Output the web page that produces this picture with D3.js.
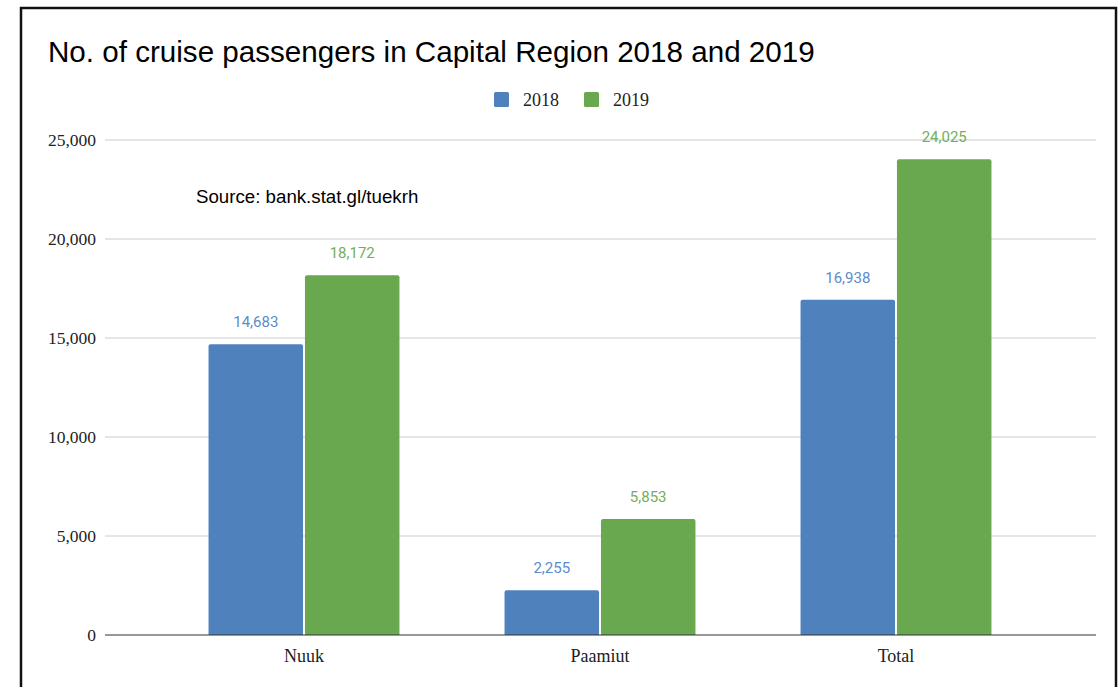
<!DOCTYPE html>
<html>
<head>
<meta charset="utf-8">
<script src="https://cdn.jsdelivr.net/npm/d3@7"></script>
<style>
  body { margin: 0; background: #fff; }
  svg { display: block; }
</style>
</head>
<body>
<div id="chart"></div>
<script>
// data
const categories = ['Nuuk', 'Paamiut', 'Total'];
const seriesNames = ['2018', '2019'];
const values2018 = [14683, 2255, 16938];
const values2019 = [18172, 5853, 24025];
const yTicks = [0, 5000, 10000, 15000, 20000, 25000];

const colors = { '2018': '#4f81bd', '2019': '#6aa84f' };
const labelColors = { '2018': '#5b8bc9', '2019': '#72b054' };

const W = 1119, H = 687;
const svg = d3.select('#chart').append('svg')
    .attr('width', W)
    .attr('height', H);

// outer frame
svg.append('rect')
    .attr('x', 21).attr('y', 8)
    .attr('width', 1095).attr('height', 700)
    .attr('fill', 'none')
    .attr('stroke', '#111')
    .attr('stroke-width', 2.5);

// title
svg.append('text')
    .attr('x', 48).attr('y', 62)
    .attr('font-family', 'Liberation Sans, Arial, sans-serif')
    .attr('font-size', 29.6)
    .attr('fill', '#000')
    .text('No. of cruise passengers in Capital Region 2018 and 2019');

// legend
const legend = svg.append('g');
const legendX = [494, 584];
seriesNames.forEach((s, i) => {
    legend.append('rect')
        .attr('x', legendX[i]).attr('y', 92)
        .attr('width', 15).attr('height', 15)
        .attr('rx', 1.5)
        .attr('fill', colors[s]);
    legend.append('text')
        .attr('x', legendX[i] + 29).attr('y', 106)
        .attr('font-family', 'Liberation Serif, Times New Roman, serif')
        .attr('font-size', 18)
        .attr('fill', '#222')
        .text(s);
});

// scales
const y = d3.scaleLinear().domain([0, 25000]).range([635, 140]);
const x = d3.scaleBand().domain(categories).range([156, 1044])
    .paddingInner(0.355).paddingOuter(0.1775);
const xSub = d3.scaleBand().domain(seriesNames).range([0, x.bandwidth()]).paddingInner(0.02);

const gridLeft = 105, gridRight = 1096;

// gridlines
svg.append('g')
    .selectAll('line')
    .data(yTicks.filter(t => t > 0))
    .join('line')
    .attr('x1', gridLeft).attr('x2', gridRight)
    .attr('y1', d => y(d)).attr('y2', d => y(d))
    .attr('stroke', '#cccccc')
    .attr('stroke-width', 1);

// y tick labels
svg.append('g')
    .selectAll('text')
    .data(yTicks)
    .join('text')
    .attr('x', 96)
    .attr('y', d => y(d) + 6)
    .attr('text-anchor', 'end')
    .attr('font-family', 'Liberation Serif, Times New Roman, serif')
    .attr('font-size', 17.5)
    .attr('fill', '#222')
    .text(d => d3.format(',')(d));

// source note
svg.append('text')
    .attr('x', 196).attr('y', 203)
    .attr('font-family', 'Liberation Sans, Arial, sans-serif')
    .attr('font-size', 18.7)
    .attr('fill', '#000')
    .text('Source: bank.stat.gl/tuekrh');

// bars
const rows = categories.map((c, i) => ({
    category: c,
    items: [
        { series: '2018', value: values2018[i] },
        { series: '2019', value: values2019[i] }
    ]
}));

const groups = svg.append('g')
    .selectAll('g')
    .data(rows)
    .join('g')
    .attr('transform', d => `translate(${x(d.category)},0)`);

groups.selectAll('path')
    .data(d => d.items)
    .join('path')
    .attr('fill', d => colors[d.series])
    .attr('d', d => {
        const x0 = xSub(d.series), w = xSub.bandwidth();
        const top = y(d.value), bot = y(0), r = 2;
        return `M${x0},${bot} V${top + r} Q${x0},${top} ${x0 + r},${top} H${x0 + w - r} Q${x0 + w},${top} ${x0 + w},${top + r} V${bot} Z`;
    });

// value labels
groups.selectAll('text')
    .data(d => d.items)
    .join('text')
    .attr('x', d => xSub(d.series) + xSub.bandwidth() / 2)
    .attr('y', d => y(d.value) - 17)
    .attr('text-anchor', 'middle')
    .attr('font-family', 'Roboto, sans-serif')
    .attr('font-size', 15)
    .attr('fill', d => labelColors[d.series])
    .text(d => d3.format(',')(d.value));

// baseline
svg.append('line')
    .attr('x1', gridLeft).attr('x2', gridRight)
    .attr('y1', y(0)).attr('y2', y(0))
    .attr('stroke', '#333')
    .attr('stroke-width', 1.2);

// category labels
svg.append('g')
    .selectAll('text')
    .data(categories)
    .join('text')
    .attr('x', d => x(d) + x.bandwidth() / 2)
    .attr('y', 662)
    .attr('text-anchor', 'middle')
    .attr('font-family', 'Liberation Serif, Times New Roman, serif')
    .attr('font-size', 18)
    .attr('fill', '#222')
    .text(d => d);
</script>
</body>
</html>
